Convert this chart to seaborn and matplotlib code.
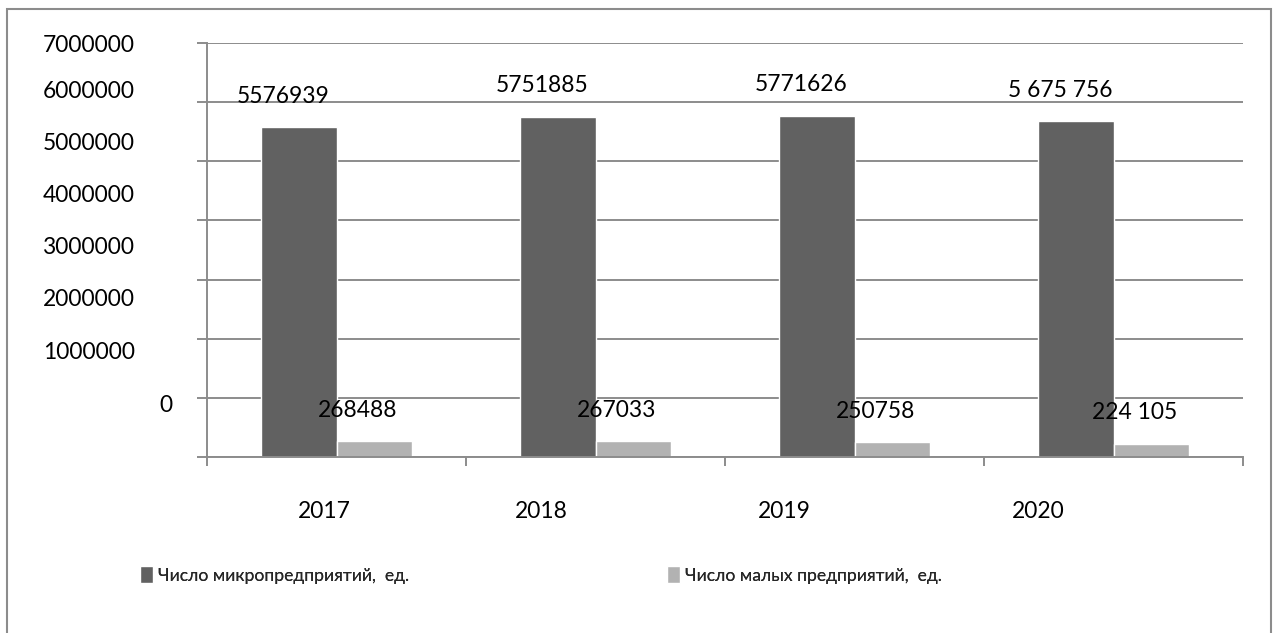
import matplotlib
matplotlib.use("Agg")
import matplotlib.pyplot as plt
from matplotlib.patches import Rectangle
import seaborn as sns
import pandas as pd

# ---- data ----
years = ["2017", "2018", "2019", "2020"]
series_names = ["Число микропредприятий,  ед.", "Число малых предприятий,  ед."]
micro = [5576939, 5751885, 5771626, 5675756]
small = [268488, 267033, 250758, 224105]
micro_labels = ["5576939", "5751885", "5771626", "5 675 756"]
small_labels = ["268488", "267033", "250758", "224 105"]
ytick_values = [0, 1000000, 2000000, 3000000, 4000000, 5000000, 6000000, 7000000]
ytick_labels = ["0", "1000000", "2000000", "3000000", "4000000", "5000000", "6000000", "7000000"]

df = pd.DataFrame({
    "year": years * 2,
    "value": micro + small,
    "series": [series_names[0]] * 4 + [series_names[1]] * 4,
})

DARK = "#616161"
LIGHT = "#b2b2b2"
GRID = "#8c8c8c"
FONT = ["Lato", "DejaVu Sans"]

sns.set_theme(style="white")
plt.rcParams["font.family"] = FONT

W, H = 1280, 633
fig = plt.figure(figsize=(W / 100, H / 100), dpi=100)

def fx(px):
    return px / W

def fy(py):
    return 1 - py / H

# outer border
fig.patches.append(Rectangle((fx(7), fy(640)), fx(1271) - fx(7), fy(9) - fy(640),
                             transform=fig.transFigure, fill=False,
                             edgecolor="#8c8c8c", linewidth=1.5))

ax = fig.add_axes([fx(207), fy(457), fx(1243) - fx(207), fy(43) - fy(457)])

sns.barplot(data=df, x="year", y="value", hue="series", order=years,
            hue_order=series_names, palette=[DARK, LIGHT], width=0.58,
            saturation=1, ax=ax, legend=True, gap=0)

ax.set_ylim(0, 7000000)
ax.set_xlim(-0.5, len(years) - 0.5)
ax.set_yticks(ytick_values)
ax.set_yticklabels([])
ax.yaxis.grid(True, color=GRID, linewidth=1.4)
ax.set_axisbelow(True)
ax.tick_params(axis="y", length=7, width=1.4, color=GRID, left=True)
ax.set_xticks([i - 0.5 for i in range(len(years) + 1)])
ax.set_xticklabels([])
ax.tick_params(axis="x", length=6.5, width=1.4, color=GRID, bottom=True)
ax.set_xlabel("")
ax.set_ylabel("")
for s in ["top", "right"]:
    ax.spines[s].set_visible(False)
for s in ["left", "bottom"]:
    ax.spines[s].set_color(GRID)
    ax.spines[s].set_linewidth(1.4)

# data labels
for cont, labs in zip(ax.containers, [micro_labels, small_labels]):
    for bar, lab in zip(cont, labs):
        ax.annotate(lab, (bar.get_x() + bar.get_width() / 2, bar.get_height()),
                    xytext=(-16, 31), textcoords="offset pixels",
                    ha="center", va="center", fontsize=16.4, color="black")

# y labels (placed as in reference, offset from the gridlines)
ylab_px = [406, 353, 300, 248, 196, 144, 92, 45]
for yp, lab in zip(ylab_px, ytick_labels):
    xr = 135 if lab != "0" else 173
    fig.text(fx(xr), fy(yp), lab, ha="right", va="center", fontsize=16.4, color="black")

# x labels
xlab_px = [324, 541, 784, 1038]
for xp, lab in zip(xlab_px, years):
    fig.text(fx(xp), fy(512), lab, ha="center", va="center", fontsize=16.4, color="black")

# legend
handles, labels = ax.get_legend_handles_labels()
ax.get_legend().remove()
leg_x = [140, 667]
for h, l, xp in zip(handles, labels, leg_x):
    lg = fig.legend([h], [l], loc="center left", bbox_to_anchor=(fx(xp), fy(575)),
                    frameon=False, borderpad=0, borderaxespad=0, handlelength=0.75,
                    handleheight=1.05, handletextpad=0.3,
                    prop={"family": FONT, "size": 12.6})
    fig.add_artist(lg)

fig.savefig("out.png", dpi=100)
